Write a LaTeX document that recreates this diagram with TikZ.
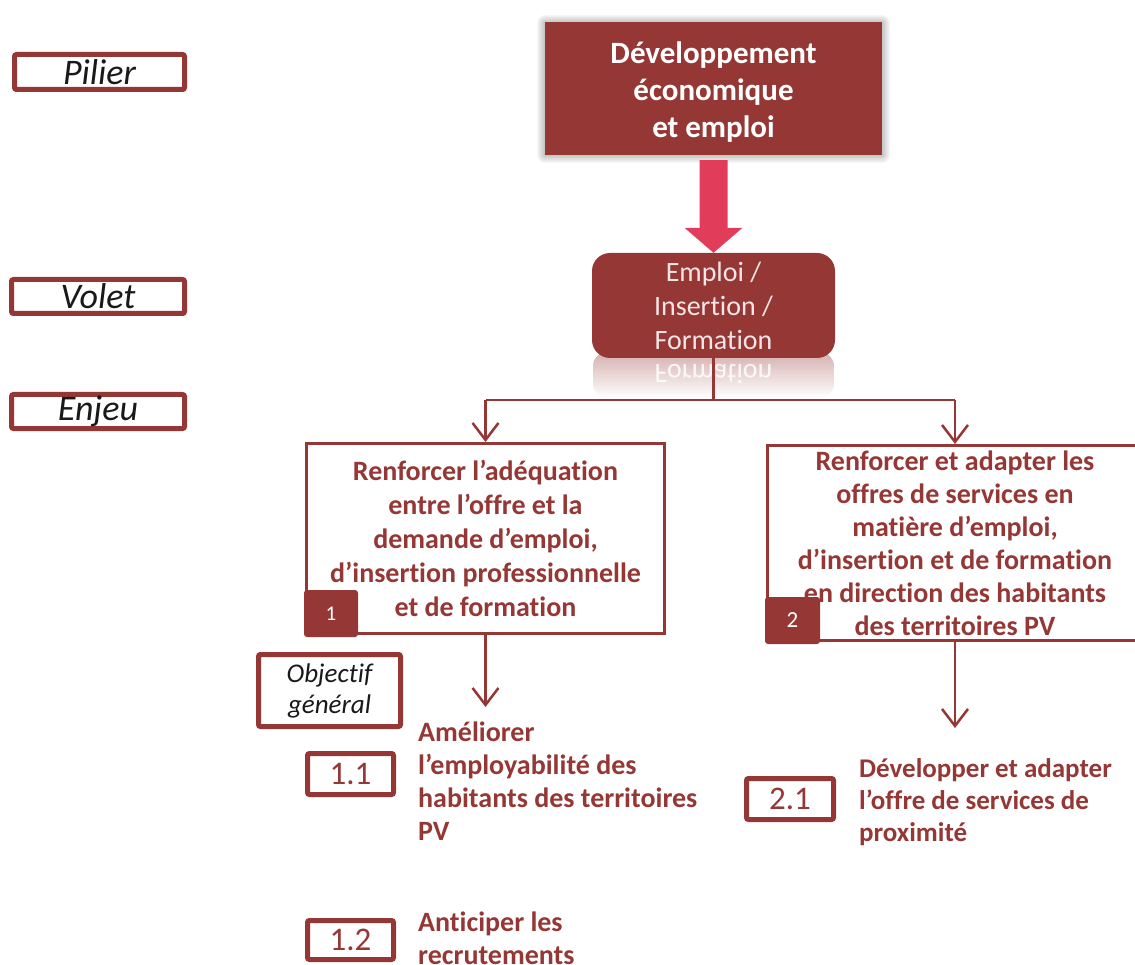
\documentclass[tikz,border=0pt]{standalone}
\usepackage{fontspec}
\setmainfont{Carlito}[Ligatures=NoCommon]
\usetikzlibrary{arrows.meta,calc}
\definecolor{dred}{HTML}{953735}
\definecolor{ared}{HTML}{E23C5B}
\definecolor{etxt}{HTML}{F4E6E6}
\begin{document}
\begin{tikzpicture}[x=1pt,y=-1pt,
  lab/.style={draw=dred, line width=5pt, rounded corners=2pt, fill=white, inner sep=0pt,
    font=\fontsize{36}{38}\selectfont\itshape, text=black!90},
  enjeubox/.style={draw=dred, line width=3pt, fill=white, inner sep=0pt, align=center,
    text=dred, font=\fontsize{28}{34}\selectfont\bfseries},
  badge/.style={fill=dred, rounded corners=3pt, text=white, inner sep=0pt,
    font=\fontsize{21}{24}\selectfont},
  numbox/.style={draw=dred, line width=5pt, rounded corners=2pt, fill=white, text=dred,
    inner sep=0pt, font=\fontsize{33}{36}\selectfont},
  objtext/.style={text=dred, align=left, anchor=north west, inner sep=0pt,
    font=\fontsize{28}{33}\selectfont\bfseries},
  link/.style={draw=dred, line width=2.5pt},
  arr/.style={link, -{Straight Barb[length=17pt,width=26pt]}}
]
\useasboundingbox (0,0) rectangle (1135,965);
\clip (0,0) rectangle (1135,965);

% left labels
\node[lab, minimum width=170pt, minimum height=35pt] (pilier) at (99.5,72) {Pilier};
\node[lab, minimum width=173pt, minimum height=34pt] (volet) at (98,296.5) {Volet};
\node[lab, minimum width=173pt, minimum height=34pt] (enjeu) at (98,411.5) {Enjeu};

% top box with soft shadow
\foreach \i in {1,...,8}{
  \fill[black, opacity=0.03, rounded corners=\i pt] (545-\i,22-\i+1) rectangle (882+\i,155+\i);
}
\node[fill=dred, minimum width=337pt, minimum height=133pt, inner sep=0pt] (top) at (713.5,88.5) {};
\node[inner sep=0pt, align=center, text=white, font=\fontsize{31}{37}\selectfont\bfseries]
  (toptext) at ($(top.center)+(0,4)$) {Développement\\économique\\et emploi};

% volet box + reflection
\shade[top color=dred!40, bottom color=white, rounded corners=14pt] (593,352) rectangle (834,398);
\begin{scope}[shift={(713.5,374)}]
  \node[yscale=-1, transform shape, text=white, opacity=0.85, font=\fontsize{28}{34}\selectfont] (refl) at (0,0) {Formation};
\end{scope}
\node[fill=dred, rounded corners=18pt, minimum width=243pt, minimum height=105pt, inner sep=0pt,
  align=center, text=etxt, font=\fontsize{28}{34}\selectfont] (emploi) at (713.5,305.5)
  {Emploi /\\Insertion /\\Formation};

% block arrow
\fill[ared] ($(top.south)+(-14,5)$) -- ($(top.south)+(14,5)$) -- ($(emploi.north)+(14,-25)$)
  -- ($(emploi.north)+(29,-25)$) -- (emploi.north) -- ($(emploi.north)+(-29,-25)$)
  -- ($(emploi.north)+(-14,-25)$) -- cycle;

% enjeux
\node[enjeubox, minimum width=358pt, minimum height=190pt] (e1) at (485.5,538.5)
  {Renforcer l’adéquation\\entre l’offre et la\\demande d’emploi,\\d’insertion professionnelle\\et de formation};
\node[enjeubox, minimum width=375pt, minimum height=195pt, font=\fontsize{28}{33}\selectfont\bfseries] (e2) at (955,543)
  {Renforcer et adapter les\\offres de services en\\matière d’emploi,\\d’insertion et de formation\\en direction des habitants\\des territoires PV};
\node[badge, minimum width=54pt, minimum height=47pt] (b1) at (331,613.5) {1};
\node[badge, minimum width=55pt, minimum height=47pt, font=\fontsize{23}{24}\selectfont] (b2) at (792.5,620.5) {2};

% connectors
\coordinate (jM) at (713.5,400);
\coordinate (jL) at (485.5,400);
\coordinate (jR) at (955,400);
\draw[link] (emploi.south) -- (jM);
\draw[link] (jL) -- (jR);
\draw[arr] (jL) -- (e1.north);
\draw[arr] (jR) -- (e2.north);
\coordinate (a1) at (485.5,707);
\coordinate (a2) at (955,728);
\draw[arr] (e1.south) -- (a1);
\draw[arr] (e2.south) -- (a2);

% objectif general
\node[lab, minimum width=142pt, minimum height=72pt, align=center,
  font=\fontsize{27}{31}\selectfont\itshape] (obj) at (329.5,690.5) {Objectif\\général};

\node[numbox, minimum width=86pt, minimum height=41pt] (n11) at (350.5,774) {1.1};
\node[numbox, minimum width=86pt, minimum height=39pt] (n12) at (350.5,940) {1.2};
\node[numbox, minimum width=87pt, minimum height=41pt] (n21) at (790,799) {2.1};

\node[objtext] (t11) at (418,722) {Améliorer\\l’employabilité des\\habitants des territoires\\PV};
\node[objtext] (t12) at (418,912) {Anticiper les\\recrutements};
\node[objtext, font=\fontsize{27}{32}\selectfont\bfseries] (t21) at (859,758) {Développer et adapter\\l’offre de services de\\proximité};
\end{tikzpicture}
\end{document}
